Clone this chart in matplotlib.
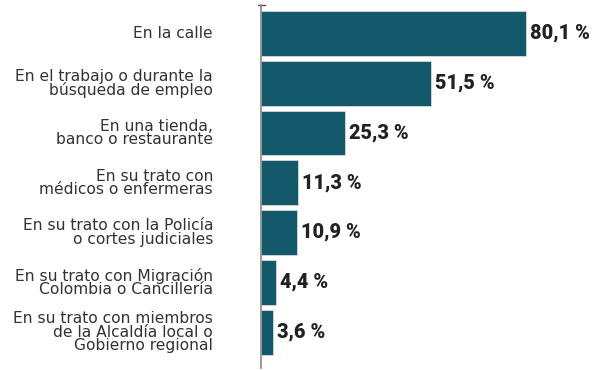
import matplotlib
matplotlib.use("Agg")
import matplotlib.pyplot as plt

categories = [
    "En la calle",
    "En el trabajo o durante la\nbúsqueda de empleo",
    "En una tienda,\nbanco o restaurante",
    "En su trato con\nmédicos o enfermeras",
    "En su trato con la Policía\no cortes judiciales",
    "En su trato con Migración\nColombia o Cancillería",
    "En su trato con miembros\nde la Alcaldía local o\nGobierno regional",
]
values = [80.1, 51.5, 25.3, 11.3, 10.9, 4.4, 3.6]
value_labels = ["80,1 %", "51,5 %", "25,3 %", "11,3 %", "10,9 %", "4,4 %", "3,6 %"]

bar_color = "#14596B"
text_color = "#222222"

fig = plt.figure(figsize=(6.0, 3.7), dpi=100)
ax = fig.add_axes([261/600, 2/370, 331/600, 363/370])

y = list(range(len(values)))
ax.barh(y, values, height=0.9, color=bar_color, edgecolor="#d9d9d9", linewidth=0.6)

ax.set_xlim(0, 100)
ax.set_ylim(6.72, -0.57)

for yi, v, lab in zip(y, values, value_labels):
    ax.text(v + 1.2, yi, lab, va="center", ha="left", fontsize=14.3,
            fontweight="heavy", family=["Roboto", "DejaVu Sans"],
            color=text_color)

for yi, cat in zip(y, categories):
    ax.text(-14.5, yi, cat, va="center", ha="right", fontsize=11.2,
            family="DejaVu Sans", color="#333333", linespacing=0.85,
            transform=ax.transData, clip_on=False)

for s in ["top", "right", "bottom"]:
    ax.spines[s].set_visible(False)
ax.spines["left"].set_color("#888888")
ax.spines["left"].set_linewidth(1.2)
ax.set_xticks([])
ax.set_yticks([])
# small cap at top of axis
ax.plot([-0.9, 1.2], [-0.57, -0.57], color="#555555", lw=1.0, clip_on=False)

fig.savefig("out.png", dpi=100, facecolor="white")
